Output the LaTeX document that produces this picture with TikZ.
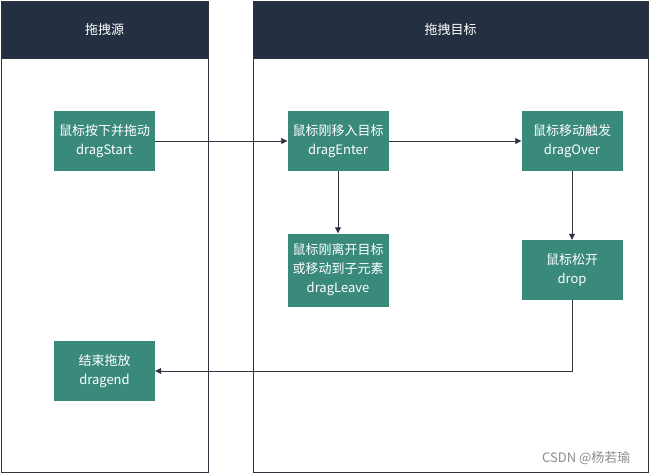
\documentclass[tikz,border=0pt]{standalone}
\usepackage{fontspec}
\newfontfamily\cjk{Noto Sans CJK SC}
\usetikzlibrary{arrows.meta}
\definecolor{lanehead}{HTML}{243042}
\definecolor{evfill}{HTML}{3A8A7C}
\definecolor{edgecol}{HTML}{2E3440}
\begin{document}
\begin{tikzpicture}[x=1pt, y=-1pt,
        evbox/.style={rectangle, fill=evfill, text=white, inner sep=0pt,
          minimum width=101pt, minimum height=60pt, align=center,
          font=\cjk\fontsize{13}{19}\selectfont},
        lanetitle/.style={text=white, font=\cjk\fontsize{13}{16}\selectfont},
        flow/.style={draw=edgecol, line width=0.8pt, -{Triangle[length=6pt, width=6pt]}}
      ]
      \useasboundingbox (0,0) rectangle (650,474);
      % lanes
      \draw[edgecol, line width=0.8pt, fill=lanehead] (1,1) rectangle (208,58);
      \draw[edgecol, line width=0.8pt] (1,1) rectangle (208,472);
      \draw[edgecol, line width=0.8pt, fill=lanehead] (253,1) rectangle (648,58);
      \draw[edgecol, line width=0.8pt] (253,1) rectangle (648,472);
      \node[lanetitle] at (104.5, 30) (srctitle) {拖拽源};
      \node[lanetitle] at (450.5, 30) (dsttitle) {拖拽目标};

      % left side
      \node[evbox] at (104.5, 141) (start) {鼠标按下并拖动\\dragStart};
      \node[evbox] at (104.5, 371) (end) {结束拖放\\dragend};

      % right side
      \node[evbox] at (338, 141) (enter) {鼠标刚移入目标\\dragEnter};
      \node[evbox] at (572, 141) (over) {鼠标移动触发\\dragOver};
      \node[evbox, minimum height=73pt] at (338, 270) (leave) {鼠标刚离开目标\\或移动到子元素\\dragLeave};
      \node[evbox] at (572, 270) (drop) {鼠标松开\\drop};

      % edges
      \draw[flow] (start) -- (enter);
      \draw[flow] (enter) -- (over);
      \draw[flow] (enter) -- (leave);
      \draw[flow] (over) -- (drop);
      \draw[flow] (drop.south) |- (end.east);

      % watermark
      \node[anchor=east, text=black!45, font=\cjk\fontsize{13}{16}\selectfont] at (634, 458) (mark) {CSDN @杨若瑜};
  \end{tikzpicture}
\end{document}
